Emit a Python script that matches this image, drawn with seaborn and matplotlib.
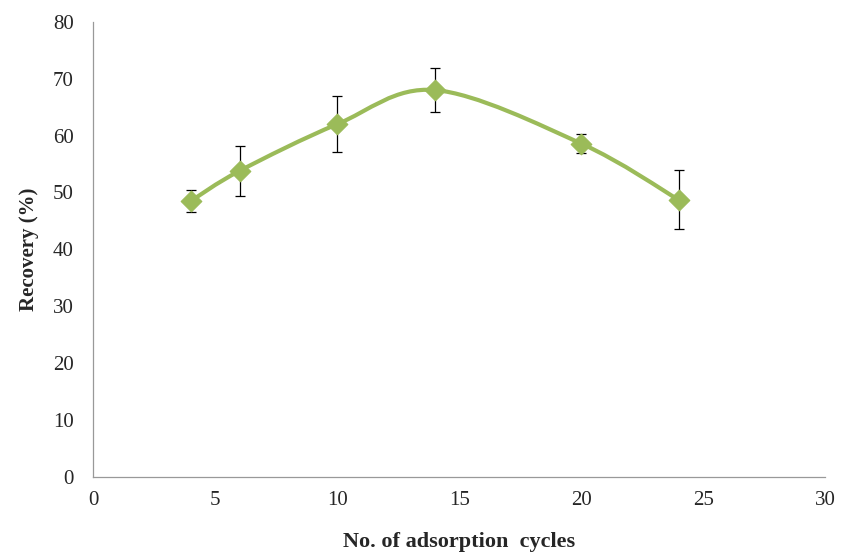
import numpy as np
import pandas as pd
import seaborn as sns
import matplotlib.pyplot as plt
from matplotlib.path import Path
from matplotlib.patches import PathPatch

cycles = [4, 6, 10, 14, 20, 24]
recovery = [48.5, 53.8, 62.0, 68.0, 58.6, 48.7]
err = [2.0, 4.4, 4.9, 3.8, 1.6, 5.2]

df = pd.DataFrame({'cycles': cycles, 'recovery': recovery, 'err': err})

sns.set_style('white')
plt.rcParams['font.family'] = ['Liberation Serif', 'DejaVu Serif']

fig = plt.figure(figsize=(8.41, 5.59), dpi=100)
ax = fig.add_axes([0.111, 0.147, 0.87, 0.814])
green = '#9BBB59'

# smoothed line (Catmull-Rom style bezier, like a spreadsheet smooth line)
pts = df[['cycles', 'recovery']].to_numpy(dtype=float)
verts = [pts[0]]
codes = [Path.MOVETO]
for i in range(len(pts) - 1):
    p0 = pts[max(i - 1, 0)]
    p1, p2 = pts[i], pts[i + 1]
    p3 = pts[min(i + 2, len(pts) - 1)]
    c1 = p1 + (p2 - p0) / 6
    c2 = p2 - (p3 - p1) / 6
    verts += [c1, c2, p2]
    codes += [Path.CURVE4] * 3
ax.add_patch(PathPatch(Path(verts, codes), fill=False, edgecolor=green, lw=3, zorder=2))

ax.errorbar(df['cycles'], df['recovery'], yerr=df['err'], fmt='none',
            ecolor='black', elinewidth=0.9, capsize=3.5, capthick=0.9, zorder=3)
sns.scatterplot(data=df, x='cycles', y='recovery', marker='D', s=110,
                color=green, edgecolor=green, ax=ax, zorder=4)

ax.set_xlim(0, 30)
ax.set_ylim(0, 80)
ax.set_xticks(range(0, 31, 5))
ax.set_yticks(range(0, 81, 10))
ax.tick_params(labelsize=15, length=0, left=False, bottom=False)
ax.tick_params(axis='y', pad=14)
ax.tick_params(axis='x', pad=10)
for s in ['top', 'right']:
    ax.spines[s].set_visible(False)
for s in ['left', 'bottom']:
    ax.spines[s].set_color('#999999')
    ax.spines[s].set_linewidth(0.9)
ax.set_xlabel('No. of adsorption  cycles', fontsize=16, fontweight='bold', labelpad=16)
ax.set_ylabel('Recovery (%)', fontsize=15, fontweight='bold', labelpad=10)

fig.savefig('out.png', dpi=100)
